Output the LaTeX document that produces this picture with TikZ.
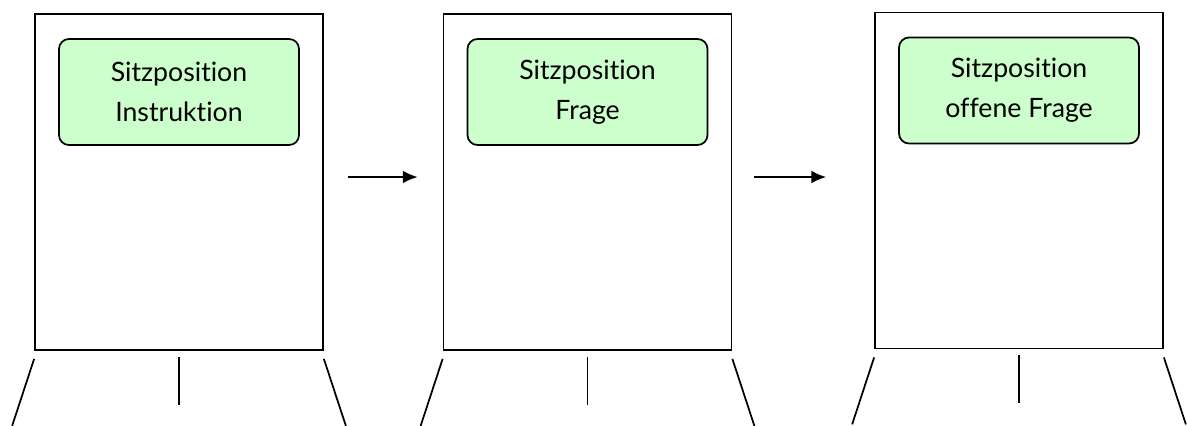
\documentclass[tikz,border=0pt]{standalone}
\usepackage{fontspec}
\setmainfont{Lato}[Ligatures=NoCommon]
\usetikzlibrary{arrows.meta,positioning}
\definecolor{vertclair}{HTML}{CCFFCC}

\begin{document}
\begin{tikzpicture}[x=0.75pt,y=-0.75pt,>={Latex[length=11pt,width=9.5pt]},
  tableau/.style={draw,line width=1.3pt,inner sep=0pt,minimum width=216pt,minimum height=252pt},
  feuille/.style={draw,line width=1.3pt,fill=vertclair,rounded corners=7.5pt,
    minimum width=180pt,minimum height=79.5pt,align=center,
    font=\fontsize{20}{30}\selectfont},
  pied/.style={line width=1.3pt}]
  \useasboundingbox (0,0) rectangle (1187,425);

  % tableaux
  \node[tableau] (t1) at (179,182) {};
  \node[tableau] (t2) at (587.5,182) {};
  \node[tableau] (t3) at (1019,180.5) {};

  % feuilles
  \node[feuille,below=18.75pt of t1.north] (f1) {Sitzposition\\Instruktion};
  \node[feuille,below=18.75pt of t2.north] (f2) {Sitzposition\\Frage};
  \node[feuille,below=18.75pt of t3.north] (f3) {Sitzposition\\offene Frage};

  % pieds
  \foreach \t in {t1,t2,t3} {
    \draw[pied] ([yshift=-6pt]\t.south west) -- ++(-22,67);
    \draw[pied] ([yshift=-4.5pt]\t.south) -- ++(0,48);
    \draw[pied] ([yshift=-6pt]\t.south east) -- ++(22,67);
  }

  % fleches
  \draw[->,line width=1.3pt] ([xshift=18pt,yshift=3.75pt]t1.east) coordinate (d1)
    -- ([xshift=-18.75pt]t2.west |- d1);
  \draw[->,line width=1.3pt] ([xshift=16.5pt,yshift=3.75pt]t2.east) coordinate (d2)
    -- ([xshift=-36pt]t3.west |- d2);
\end{tikzpicture}
\end{document}
